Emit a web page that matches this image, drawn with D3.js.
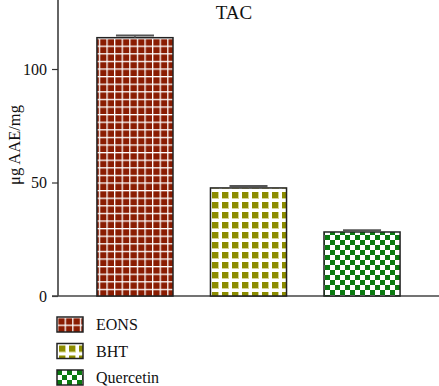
<!DOCTYPE html>
<html>
<head>
<meta charset="utf-8">
<script src="https://cdn.jsdelivr.net/npm/d3@7"></script>
<style>
  body { margin: 0; background: #fff; }
  svg { display: block; font-family: "Liberation Serif", "DejaVu Serif", serif; }
</style>
</head>
<body>
<div id="chart"></div>
<script>
const categories = ["EONS", "BHT", "Quercetin"];
const values = [113.8, 47.6, 28.2];
const errors = [1.0, 0.9, 0.8];
const yTicks = [0, 50, 100];
const title = "TAC";
const yLabel = "μg AAE/mg";

const W = 439, H = 386;

const svg = d3.select("#chart").append("svg").attr("width", W).attr("height", H);
const defs = svg.append("defs");

// patterns
const p1 = defs.append("pattern").attr("id", "pat0").attr("patternUnits", "userSpaceOnUse")
    .attr("width", 7.6).attr("height", 7.6);
p1.append("rect").attr("width", 7.6).attr("height", 7.6).attr("fill", "#fff");
p1.append("rect").attr("x", 1.3).attr("y", 1.3).attr("width", 6.3).attr("height", 6.3).attr("fill", "#8a1c02");

const p2 = defs.append("pattern").attr("id", "pat1").attr("patternUnits", "userSpaceOnUse")
    .attr("width", 10).attr("height", 10);
p2.append("rect").attr("width", 10).attr("height", 10).attr("fill", "#fff");
p2.append("rect").attr("x", 2).attr("y", 2).attr("width", 7).attr("height", 7).attr("fill", "#d6d68a");
p2.append("rect").attr("x", 2).attr("y", 2).attr("width", 6).attr("height", 6).attr("fill", "#8c8c00");

const p3 = defs.append("pattern").attr("id", "pat2").attr("patternUnits", "userSpaceOnUse")
    .attr("width", 10).attr("height", 10);
p3.append("rect").attr("width", 10).attr("height", 10).attr("fill", "#fff");
p3.append("rect").attr("x", 0).attr("y", 0).attr("width", 5).attr("height", 5).attr("fill", "#0a7a10");
p3.append("rect").attr("x", 5).attr("y", 5).attr("width", 5).attr("height", 5).attr("fill", "#0a7a10");

// scales
const x = d3.scaleBand().domain(categories).range([58, 439]).paddingInner(0.33).paddingOuter(0.343);
const y = d3.scaleLinear().domain([0, 130.4]).range([296, 0]);

// axes
const axY = svg.append("g").attr("transform", "translate(58,0)")
    .call(d3.axisLeft(y).tickValues(yTicks).tickSize(6).tickPadding(5));
axY.select(".domain").attr("d", `M0,${y(0)}V0`).attr("stroke", "#111").attr("stroke-width", 1.3);
axY.selectAll(".tick line").attr("stroke", "#333").attr("stroke-width", 1.2);
axY.selectAll(".tick text").attr("font-size", 16).attr("fill", "#111")
    .attr("font-family", "Liberation Serif");

svg.append("line").attr("x1", 52).attr("x2", 439).attr("y1", y(0)).attr("y2", y(0))
    .attr("stroke", "#444").attr("stroke-width", 1.4);

// bars
svg.append("g").selectAll("rect").data(categories).join("rect")
    .attr("x", d => x(d))
    .attr("y", (d, i) => y(values[i]))
    .attr("width", x.bandwidth())
    .attr("height", (d, i) => y(0) - y(values[i]))
    .attr("fill", (d, i) => `url(#pat${i})`)
    .attr("stroke", "#222").attr("stroke-width", 1.5);

// error bars
const eb = svg.append("g").selectAll("g").data(categories).join("g");
eb.append("line")
    .attr("x1", d => x(d) + x.bandwidth() / 2).attr("x2", d => x(d) + x.bandwidth() / 2)
    .attr("y1", (d, i) => y(values[i])).attr("y2", (d, i) => y(values[i] + errors[i]))
    .attr("stroke", "#555").attr("stroke-width", 1.5);
eb.append("line")
    .attr("x1", d => x(d) + x.bandwidth() * 0.25).attr("x2", d => x(d) + x.bandwidth() * 0.75)
    .attr("y1", (d, i) => y(values[i] + errors[i])).attr("y2", (d, i) => y(values[i] + errors[i]))
    .attr("stroke", "#555").attr("stroke-width", 2);

// title
svg.append("text").attr("x", 234).attr("y", 19).attr("text-anchor", "middle")
    .attr("font-size", 19).attr("fill", "#111").text(title);

// y label
svg.append("text").attr("transform", "translate(20,145) rotate(-90)")
    .attr("text-anchor", "middle").attr("font-size", 16.5).attr("fill", "#111")
    .text(yLabel);

// legend
const leg = svg.append("g").selectAll("g").data(categories).join("g")
    .attr("transform", (d, i) => `translate(57,${317 + i * 26.5})`);
leg.append("rect").attr("width", 26).attr("height", 15)
    .attr("fill", (d, i) => `url(#pat${i})`)
    .attr("stroke", "#222").attr("stroke-width", 1.5);
leg.append("text").attr("x", 39).attr("y", 13).attr("font-size", 16).attr("fill", "#111")
    .text(d => d);
</script>
</body>
</html>
